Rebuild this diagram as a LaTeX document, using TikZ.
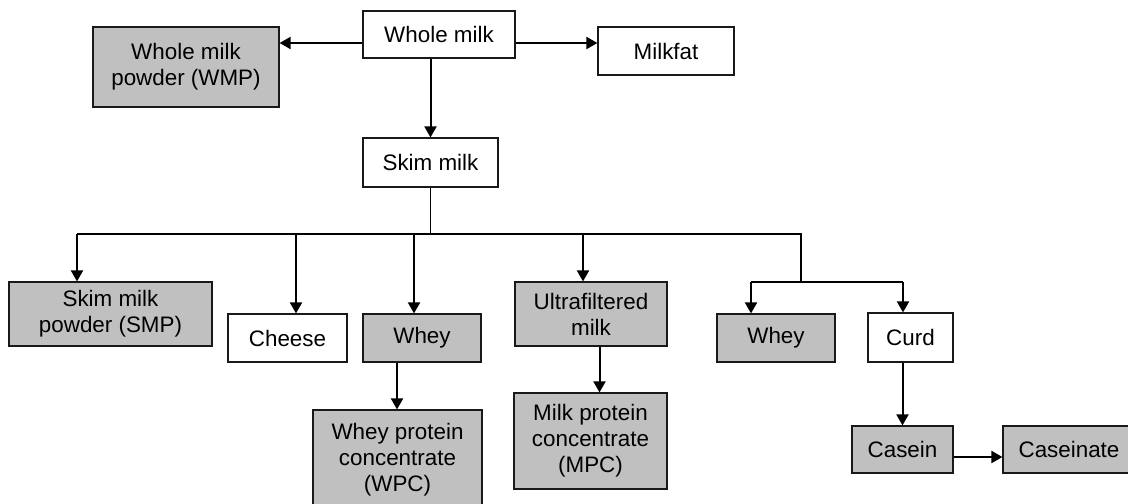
\documentclass[tikz,border=0pt]{standalone}
\usepackage{fontspec}
\setmainfont{Liberation Sans}
\usetikzlibrary{arrows.meta}
\definecolor{boxgrey}{HTML}{C0C0C0}
\begin{document}
\begin{tikzpicture}[x=0.5pt,y=-0.5pt,
  every node/.style={rectangle, draw=black!90, line width=0.6pt, inner sep=0pt, align=center, font=\fontsize{11.2}{13}\selectfont},
  grey/.style={fill=boxgrey},
  arr/.style={-{Triangle[length=5.5pt,width=6pt]}, line width=1pt},
  wire/.style={line width=0.55pt}]
\useasboundingbox (0,0) rectangle (1128,503);
\clip (0,0) rectangle (1128,503);
\node[minimum width=76pt, minimum height=23.5pt] (wm) at (439,34.5) {Whole milk};
\node[grey, minimum width=93pt, minimum height=40pt] (wmp) at (186,67) {Whole milk\\powder (WMP)};
\node[minimum width=68pt, minimum height=24pt] (fat) at (666,51) {Milkfat};
\node[minimum width=67.5pt, minimum height=24.5pt] (skim) at (430.5,162.5) {Skim milk};
\node[grey, minimum width=101.5pt, minimum height=32pt] (smp) at (110.5,314) {Skim milk\\powder (SMP)};
\node[minimum width=59.5pt, minimum height=24pt] (cheese) at (287.5,338) {Cheese};
\node[grey, minimum width=59pt, minimum height=24pt] (whey1) at (422,338) {Whey};
\node[grey, minimum width=76pt, minimum height=32pt] (uf) at (591,314) {Ultrafiltered\\milk};
\node[grey, minimum width=59pt, minimum height=24pt] (whey2) at (776,338) {Whey};
\node[minimum width=42.5pt, minimum height=24.5pt] (curd) at (910.5,337.5) {Curd};
\node[grey, minimum width=84.5pt, minimum height=50pt] (wpc) at (397.5,460) {Whey protein\\concentrate\\(WPC)};
\node[grey, minimum width=76.5pt, minimum height=48pt] (mpc) at (590.5,441) {Milk protein\\concentrate\\(MPC)};
\node[grey, minimum width=50.5pt, minimum height=23.5pt] (casein) at (902.5,449.5) {Casein};
\node[grey, minimum width=66pt, minimum height=23.5pt] (caseinate) at (1069,449.5) {Caseinate};
\coordinate (wmL) at ([yshift=-4.25pt]wm.west);
\coordinate (wmR) at ([yshift=-4.25pt]wm.east);
\coordinate (b1) at (77,234);
\coordinate (b2) at (296,234);
\coordinate (b3) at (414,234);
\coordinate (b4) at (583,234);
\coordinate (b5) at (801,234);
\coordinate (c1) at (751,282);
\coordinate (c2) at (903,282);
\coordinate (w1) at ([xshift=-12.5pt]whey1.south);
\coordinate (u1) at ([xshift=4.25pt]uf.south);
\coordinate (k1) at ([yshift=-3.75pt]casein.east);
\draw[arr] (wmL) -- (wmL -| wmp.east);
\draw[arr] (wmR) -- (wmR -| fat.west);
\draw[arr] (skim.north |- wm.south) -- (skim.north);
\draw[wire] (skim.south) -- (skim.south |- b1);
\draw[wire] (b1) -- (b5) -- (b5 |- c1);
\draw[wire] (c1) -- (c2);
\draw[arr] (b1) -- (b1 |- smp.north);
\draw[arr] (b2) -- (b2 |- cheese.north);
\draw[arr] (b3) -- (b3 |- whey1.north);
\draw[arr] (b4) -- (b4 |- uf.north);
\draw[arr] (c1) -- (c1 |- whey2.north);
\draw[arr] (c2) -- (c2 |- curd.north);
\draw[arr] (w1) -- (w1 |- wpc.north);
\draw[arr] (u1) -- (u1 |- mpc.north);
\draw[arr] (casein.north |- curd.south) -- (casein.north);
\draw[arr] (k1) -- (k1 -| caseinate.west);
\end{tikzpicture}
\end{document}
